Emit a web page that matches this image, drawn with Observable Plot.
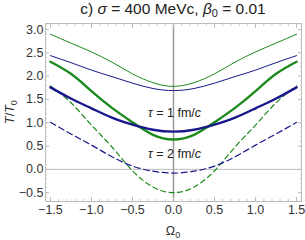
<!DOCTYPE html>
<html>
<head>
<meta charset="utf-8">
<script src="https://cdn.jsdelivr.net/npm/d3@7"></script>
<script src="https://cdn.jsdelivr.net/npm/@observablehq/plot@0.6"></script>
<style>
  body { margin: 0; background: #fff; font-family: "Liberation Sans", Arial, sans-serif; }
  #wrap { position: relative; width: 305px; height: 240px; overflow: hidden; }
  #title { position: absolute; top: 0px; left: 45px; width: 256px; text-align: center;
           font-size: 15.5px; color: #222; white-space: nowrap; }
  #title sub { font-size: 11px; vertical-align: -3px; line-height: 0; }
</style>
</head>
<body>
<div id="wrap">
  <div id="chart"></div>
  <div id="title">c) <i>σ</i> = 400 MeVc, <i>β</i><sub>0</sub> = 0.01</div>
</div>
<script>
const omega       = [-1.5, -1.25, -1, -0.75, -0.5, -0.25, 0, 0.25, 0.5, 0.75, 1, 1.25, 1.5];
const tThinGreen  = [2.90, 2.71, 2.52, 2.30, 2.05, 1.86, 1.78, 1.86, 2.05, 2.30, 2.52, 2.71, 2.90];
const tThinBlue   = [2.44, 2.29, 2.13, 1.99, 1.85, 1.735, 1.69, 1.735, 1.85, 1.99, 2.13, 2.29, 2.44];
const tThickGreen = [2.31, 2.05, 1.68, 1.32, 1.01, 0.74, 0.64, 0.74, 1.01, 1.32, 1.68, 2.05, 2.31];
const tThickBlue  = [1.76, 1.52, 1.31, 1.11, 0.96, 0.85, 0.81, 0.85, 0.96, 1.11, 1.31, 1.52, 1.76];
const tDashGreen  = [1.79, 1.43, 0.95, 0.48, -0.03, -0.38, -0.50, -0.38, -0.03, 0.48, 0.95, 1.43, 1.79];
const tDashBlue   = [1.01, 0.76, 0.52, 0.27, 0.07, -0.04, -0.08, -0.04, 0.07, 0.27, 0.52, 0.76, 1.01];

const xTicks = [-1.5, -1, -0.5, 0, 0.5, 1, 1.5];
const yTicks = [-0.5, 0, 0.5, 1, 1.5, 2, 2.5, 3];
const xMinor = d3.range(-15, 16).map(d => d / 10);
const yMinor = d3.range(-6, 32).map(d => d / 10);

const labelText = ["τ = 1 fm/c", "τ = 2 fm/c"];
const labelX = [-0.31, -0.31];
const labelY = [1.20, 0.34];

const pts = (ys) => omega.map((x, i) => ({x, y: ys[i]}));
const labels = labelText.map((t, i) => ({t, x: labelX[i], y: labelY[i]}));

const GREEN = "#1d8a1d", BLUE = "#18188c";
const fmt = d3.format(".1f");
const blank = () => "";
const tk = {tickFormat: blank, label: null};

const chart = Plot.plot({
  width: 305, height: 240,
  marginTop: 23, marginBottom: 39, marginLeft: 45, marginRight: 4,
  x: {domain: [-1.56, 1.56], label: null},
  y: {domain: [-0.69, 3.13], label: null},
  style: {fontFamily: "'Liberation Sans', Arial, sans-serif", fontSize: "12px", color: "#333", background: "white"},
  marks: [
    Plot.ruleY([0], {stroke: "#bbb", strokeWidth: 1}),
    Plot.ruleX([0], {stroke: "#999", strokeWidth: 1.5}),
    Plot.frame({stroke: "#bbb"}),
    Plot.axisX(xMinor, {anchor: "bottom", tickSize: -2, stroke: "#ccc", ...tk}),
    Plot.axisX(xTicks, {anchor: "bottom", tickSize: -4, stroke: "#bbb", ...tk}),
    Plot.axisX(xMinor, {anchor: "top", tickSize: -2, stroke: "#ccc", ...tk}),
    Plot.axisX(xTicks, {anchor: "top", tickSize: -4, stroke: "#bbb", ...tk}),
    Plot.axisY(yMinor, {anchor: "left", tickSize: -2, stroke: "#ccc", ...tk}),
    Plot.axisY(yTicks, {anchor: "left", tickSize: -4, stroke: "#bbb", ...tk}),
    Plot.axisY(yMinor, {anchor: "right", tickSize: -2, stroke: "#ccc", ...tk}),
    Plot.axisY(yTicks, {anchor: "right", tickSize: -4, stroke: "#bbb", ...tk}),
    Plot.axisX(xTicks, {anchor: "bottom", tickSize: 0, tickPadding: 4, tickFormat: fmt, fontSize: 12.5, fill: "#333", label: null}),
    Plot.axisY(yTicks, {anchor: "left", tickSize: 0, tickPadding: 2, tickFormat: fmt, fontSize: 12.5, fill: "#333", label: null}),
    Plot.line(pts(tThinGreen), {x: "x", y: "y", stroke: GREEN, strokeWidth: 1, curve: "natural"}),
    Plot.line(pts(tThinBlue), {x: "x", y: "y", stroke: BLUE, strokeWidth: 1, curve: "natural"}),
    Plot.line(pts(tDashGreen), {x: "x", y: "y", stroke: GREEN, strokeWidth: 1.2, strokeDasharray: "5,3.5", curve: "natural"}),
    Plot.line(pts(tDashBlue), {x: "x", y: "y", stroke: BLUE, strokeWidth: 1.2, strokeDasharray: "6,3.5", curve: "natural"}),
    Plot.line(pts(tThickGreen), {x: "x", y: "y", stroke: GREEN, strokeWidth: 2.4, curve: "natural"}),
    Plot.line(pts(tThickBlue), {x: "x", y: "y", stroke: BLUE, strokeWidth: 2.4, curve: "natural"}),
    Plot.text(labels, {x: "x", y: "y", text: "t", textAnchor: "start", fontSize: 12.5, fill: "#222"})
  ]
});

// mixed italic styling for the annotations
d3.select(chart).selectAll("g[aria-label='text'] text").each(function () {
  const s = this.textContent;
  const m = s.match(/^τ = (\d) fm\/c$/);
  if (!m) return;
  const el = d3.select(this);
  el.text(null);
  el.append("tspan").attr("font-style", "italic").text("τ");
  el.append("tspan").text(" = " + m[1] + " fm/");
  el.append("tspan").attr("font-style", "italic").text("c");
});

const svg = d3.select(chart);
const yl = svg.append("text")
  .attr("transform", "translate(14,112) rotate(-90)")
  .attr("text-anchor", "middle").attr("font-size", 12.5).attr("fill", "#333");
yl.append("tspan").attr("font-style", "italic").text("T");
yl.append("tspan").text("/");
yl.append("tspan").attr("font-style", "italic").text("T");
yl.append("tspan").attr("font-size", 9).attr("dy", 3).text("0");

const xl = svg.append("text")
  .attr("x", 173).attr("y", 235)
  .attr("text-anchor", "middle").attr("font-size", 12.5).attr("fill", "#333");
xl.append("tspan").text("Ω");
xl.append("tspan").attr("font-size", 9).attr("dy", 3).text("0");

document.getElementById("chart").appendChild(chart);
</script>
</body>
</html>
